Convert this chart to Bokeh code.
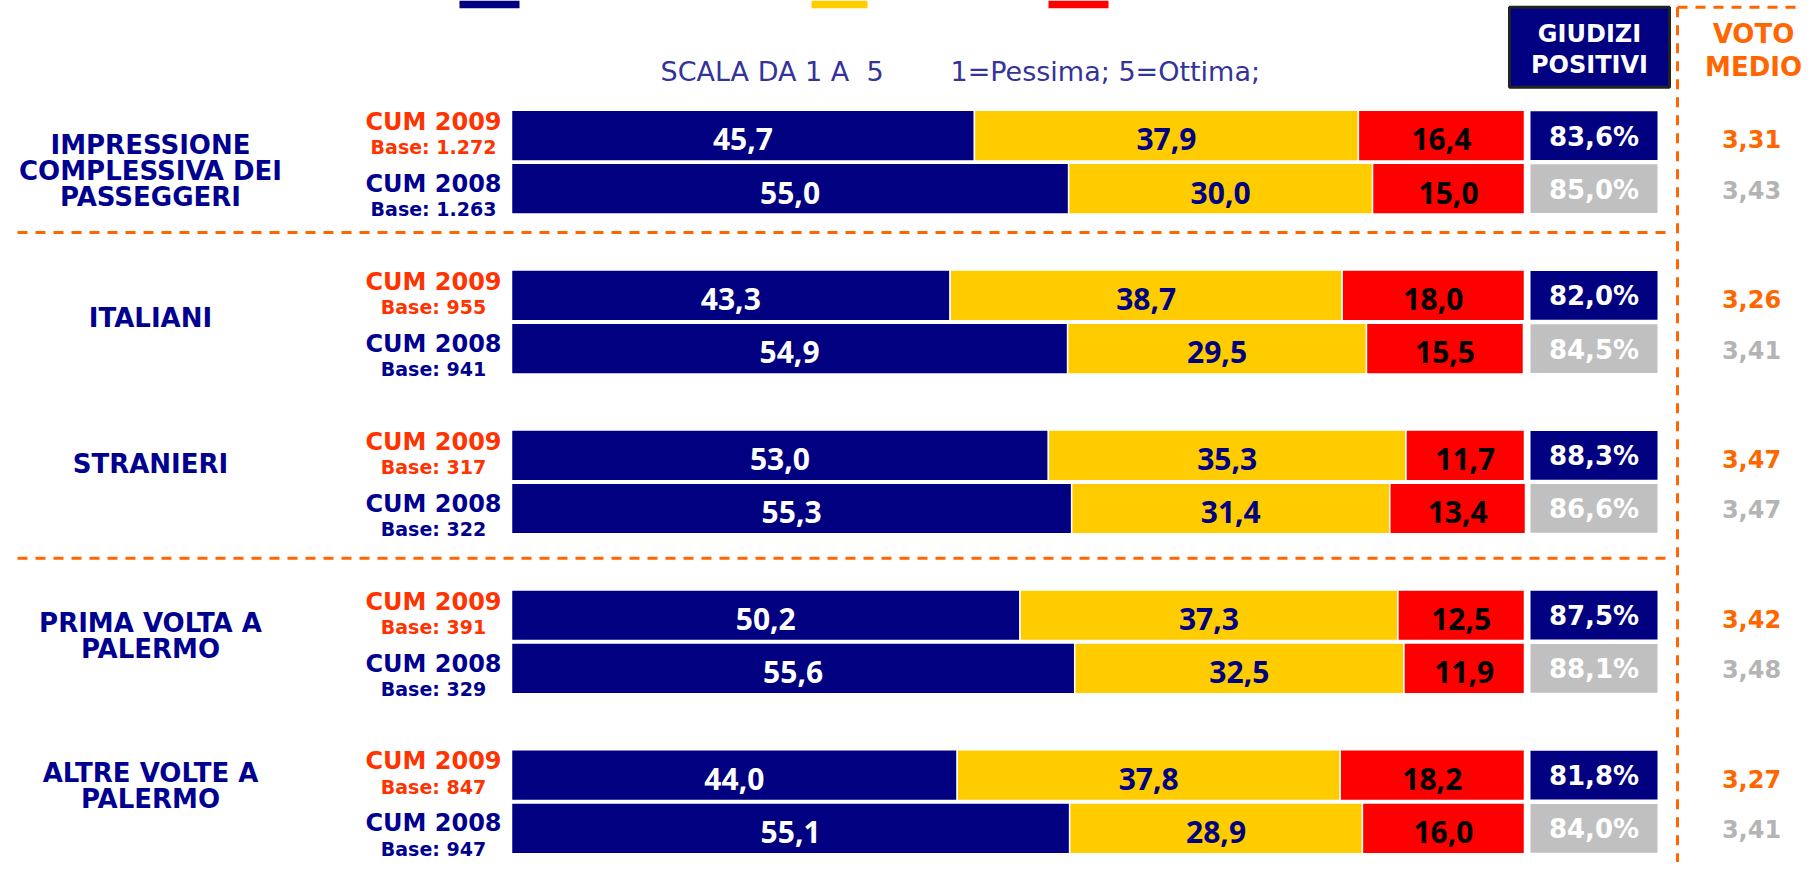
from bokeh.plotting import figure
from bokeh.models import Range1d
from bokeh.core.properties import value
from bokeh.embed import file_html
from bokeh.resources import INLINE

# ---------------- data ----------------
categories = ["IMPRESSIONE\nCOMPLESSIVA DEI\nPASSEGGERI", "ITALIANI", "STRANIERI",
              "PRIMA VOLTA A\nPALERMO", "ALTRE VOLTE A\nPALERMO"]
years = ["CUM 2009", "CUM 2008"]
base_2009 = ["1.272", "955", "317", "391", "847"]
base_2008 = ["1.263", "941", "322", "329", "947"]
pos_2009 = [45.7, 43.3, 53.0, 50.2, 44.0]
mid_2009 = [37.9, 38.7, 35.3, 37.3, 37.8]
neg_2009 = [16.4, 18.0, 11.7, 12.5, 18.2]
pos_2008 = [55.0, 54.9, 55.3, 55.6, 55.1]
mid_2008 = [30.0, 29.5, 31.4, 32.5, 28.9]
neg_2008 = [15.0, 15.5, 13.4, 11.9, 16.0]
giudizi_2009 = [83.6, 82.0, 88.3, 87.5, 81.8]
giudizi_2008 = [85.0, 84.5, 86.6, 88.1, 84.0]
voto_2009 = [3.31, 3.26, 3.47, 3.42, 3.27]
voto_2008 = [3.43, 3.41, 3.47, 3.48, 3.41]
subtitle_a = "SCALA DA 1 A\u00a0\u00a05"
subtitle_b = "1=Pessima; 5=Ottima;"
header_giudizi = ["GIUDIZI", "POSITIVI"]
header_voto = ["VOTO", "MEDIO"]

# ---------------- style / layout ----------------
NAVY = "#000080"
YELLOW = "#FFCC00"
RED = "#FF0000"
GRAY = "#C0C0C0"
ORANGE = "#FF6600"
RED09 = "#FF3300"
CATBLUE = "#000090"

W, H = 1801, 862
SY = 0.975          # slight vertical compression so everything fits


def xu(px):
    return (px - 511) / 10.13


def yu(py):
    return (py - 166) / 164


def dy(px):
    return px / 164


p = figure(width=W, height=H, output_backend="svg", toolbar_location=None,
           x_range=Range1d(xu(0), xu(W)),
           y_range=Range1d(yu(H / SY), yu(0)),
           min_border=0)
p.axis.visible = False
p.grid.visible = False
p.outline_line_color = None
p.background_fill_color = "white"
p.border_fill_color = "white"

fmt1 = lambda v: f"{v:.1f}".replace(".", ",")
fmt2 = lambda v: f"{v:.2f}".replace(".", ",")

n = len(categories)
Y09 = [g + dy(-27.5) for g in range(n)]
Y08 = [g + dy(27) for g in range(n)]
BH = dy(52)

BAR_FONT = dict(text_align="center", text_baseline="middle", text_font=value("Open Sans"),
                text_font_style="bold", text_font_size="30px")

# stacked bars
for ys, pos, mid, neg in [(Y09, pos_2009, mid_2009, neg_2009), (Y08, pos_2008, mid_2008, neg_2008)]:
    r1 = pos
    r2 = [a + b for a, b in zip(pos, mid)]
    r3 = [a + b + c for a, b, c in zip(pos, mid, neg)]
    p.hbar(y=ys, left=[0] * n, right=r1, height=BH, fill_color=NAVY, line_color="white", line_width=1.5)
    p.hbar(y=ys, left=r1, right=r2, height=BH, fill_color=YELLOW, line_color="white", line_width=1.5)
    p.hbar(y=ys, left=r2, right=r3, height=BH, fill_color=RED, line_color="white", line_width=1.5)
    ty = [y + dy(4) for y in ys]
    p.text(x=[v / 2 for v in pos], y=ty, text=[fmt1(v) for v in pos], text_color="white", **BAR_FONT)
    p.text(x=[(a + b) / 2 for a, b in zip(r1, r2)], y=ty, text=[fmt1(v) for v in mid],
           text_color=NAVY, **BAR_FONT)
    p.text(x=[(a + b) / 2 for a, b in zip(r2, r3)], y=ty, text=[fmt1(v) for v in neg],
           text_color="black", **BAR_FONT)

# giudizi positivi boxes
GL, GR = xu(1530), xu(1657)
GC = (GL + GR) / 2
for ys, vals, col in [(Y09, giudizi_2009, NAVY), (Y08, giudizi_2008, GRAY)]:
    p.hbar(y=ys, left=[GL] * n, right=[GR] * n, height=dy(50), fill_color=col, line_color=None)
    p.text(x=[GC] * n, y=[y + dy(1) for y in ys], text=[fmt1(v) + "%" for v in vals], text_align="center",
           text_baseline="middle", text_color="white", text_font=value("DejaVu Sans"),
           text_font_style="bold", text_font_size="26px")

# voto medio
VX = xu(1751)
p.text(x=[VX] * n, y=[y + dy(4) for y in Y09], text=[fmt2(v) for v in voto_2009], text_align="center",
       text_baseline="middle", text_color=ORANGE, text_font=value("DejaVu Sans"),
       text_font_style="bold", text_font_size="24px")
p.text(x=[VX] * n, y=[y + dy(1) for y in Y08], text=[fmt2(v) for v in voto_2008], text_align="center",
       text_baseline="middle", text_color="#B4B4B4", text_font=value("DejaVu Sans"),
       text_font_style="bold", text_font_size="24px")

# row labels (CUM 2009 / CUM 2008 + base)
LX = xu(433)
LBL = dict(text_align="center", text_baseline="middle", text_font=value("DejaVu Sans"),
           text_font_style="bold")
p.text(x=[LX] * n, y=[y + dy(-14) for y in Y09], text=[years[0]] * n, text_color=RED09,
       text_font_size="24px", **LBL)
p.text(x=[LX] * n, y=[y + dy(12) for y in Y09], text=["Base: " + b for b in base_2009], text_color=RED09,
       text_font_size="19px", **LBL)
p.text(x=[LX] * n, y=[y + dy(-5) for y in Y08], text=[years[1]] * n, text_color=CATBLUE,
       text_font_size="24px", **LBL)
p.text(x=[LX] * n, y=[y + dy(21) for y in Y08], text=["Base: " + b for b in base_2008], text_color=CATBLUE,
       text_font_size="19px", **LBL)

# category labels
label_dy_px = [9, -4, -19, -6, -16]
CX = xu(150)
cx, cy, ct = [], [], []
for g, (lab, d) in enumerate(zip(categories, label_dy_px)):
    lines = lab.split("\n")
    k = len(lines)
    for i, ln in enumerate(lines):
        cx.append(CX)
        cy.append(g + dy(d + (i - (k - 1) / 2) * 26.7))
        ct.append(ln)
p.text(x=cx, y=cy, text=ct, text_color=CATBLUE, text_font_size="26px", **LBL)

# separators
for yy in (yu(238), yu(572)):
    p.line(x=[xu(17), xu(1670)], y=[yy, yy], line_color=ORANGE, line_width=3, line_dash="10 8")
p.line(x=[xu(1677), xu(1677)], y=[yu(7), yu(H / SY)], line_color=ORANGE, line_width=3, line_dash="10 8")
p.line(x=[xu(1677), xu(1817)], y=[yu(7)] * 2, line_color=ORANGE, line_width=3, line_dash="10 8")

# header box GIUDIZI POSITIVI
p.quad(left=[xu(1509)], right=[xu(1669)], top=[yu(7)], bottom=[yu(89)],
       fill_color=NAVY, line_color="#222222", line_width=3)
p.text(x=[xu(1589)] * 2, y=[yu(34), yu(66)], text=header_giudizi, text_color="white",
       text_font_size="24px", **LBL)
p.text(x=[xu(1753)] * 2, y=[yu(34), yu(68)], text=header_voto, text_color=ORANGE,
       text_font_size="26px", **LBL)

# subtitle
p.text(x=[xu(660)], y=[yu(73)], text=[subtitle_a], text_align="left", text_baseline="middle",
       text_color="#333399", text_font=value("DejaVu Sans"), text_font_size="27px")
p.text(x=[xu(950)], y=[yu(73)], text=[subtitle_b], text_align="left", text_baseline="middle",
       text_color="#333399", text_font=value("DejaVu Sans"), text_font_size="27px")

# cropped legend swatches at the top edge
p.quad(left=[xu(459), xu(811), xu(1048)], right=[xu(519), xu(867), xu(1108)],
       top=[yu(0)] * 3, bottom=[yu(8)] * 3,
       fill_color=[NAVY, YELLOW, RED], line_color=None)

open("out.html", "w").write(file_html(p, INLINE))
